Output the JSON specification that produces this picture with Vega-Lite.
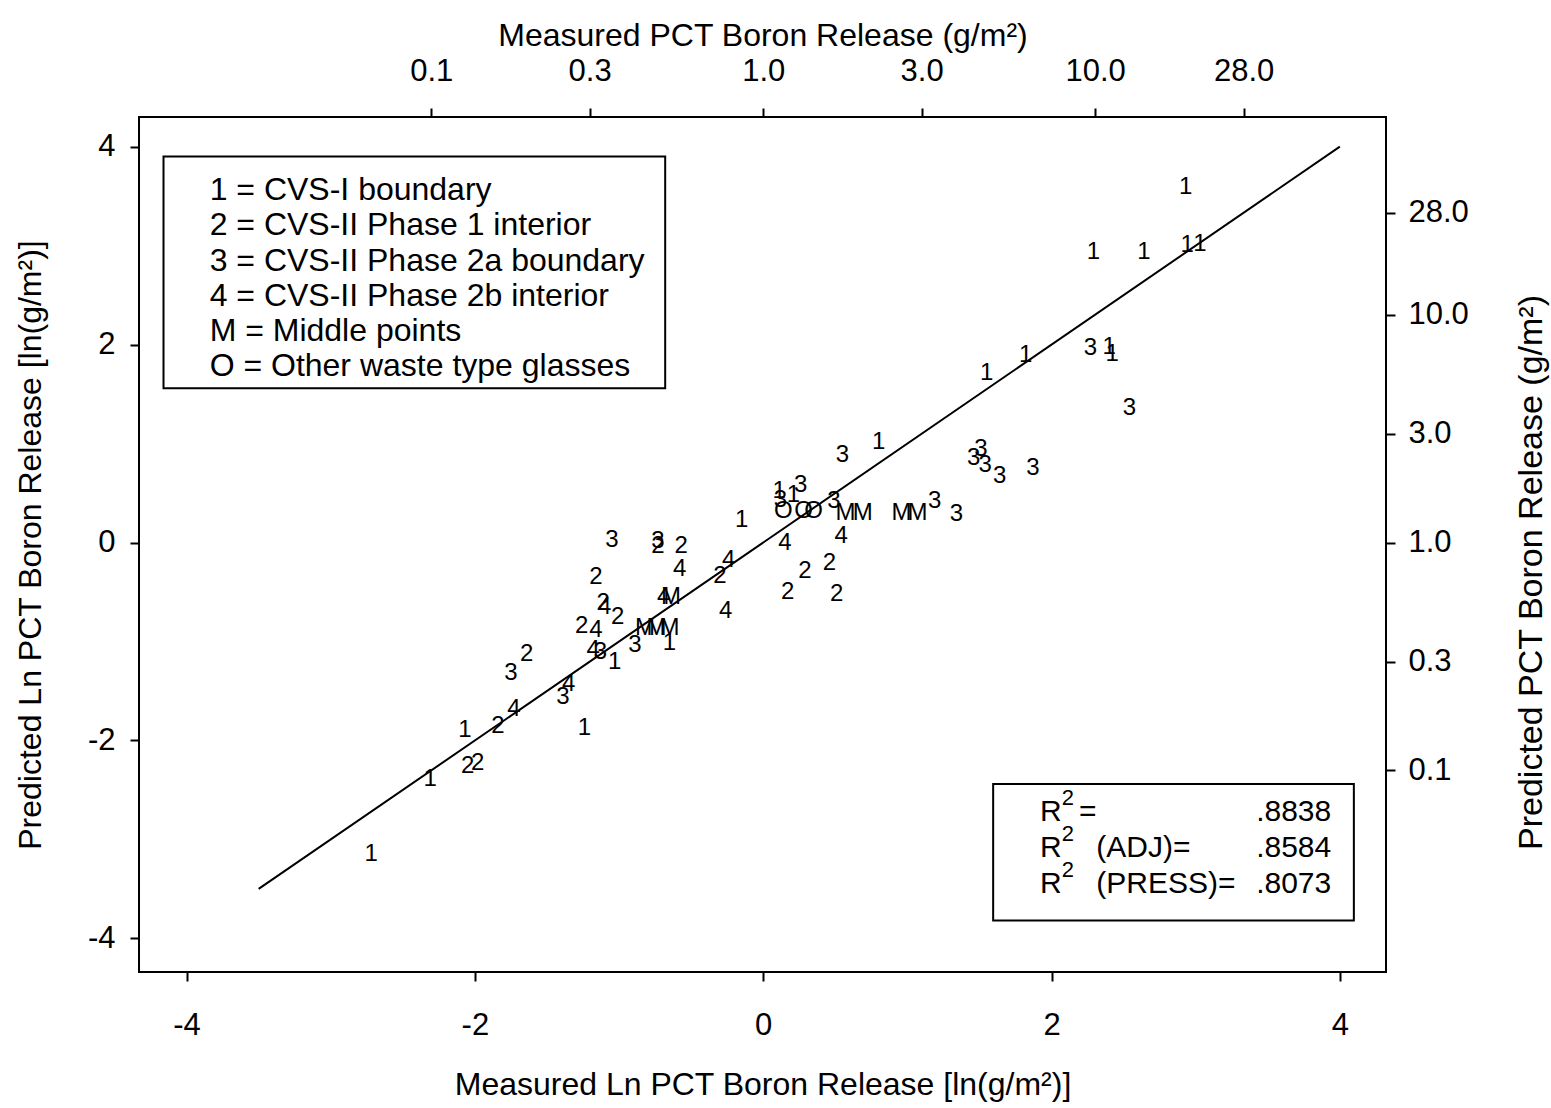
{
  "$schema": "https://vega.github.io/schema/vega-lite/v6.json",
  "width": 1247,
  "height": 855,
  "autosize": {"type": "none"},
  "padding": {"left": 139, "top": 117, "right": 165, "bottom": 136},
  "background": "white",
  "config": {
    "font": "Liberation Sans",
    "view": {"stroke": "black", "strokeWidth": 2},
    "axis": {
      "domain": false, "grid": false,
      "tickColor": "black", "tickWidth": 2, "tickSize": 9,
      "labelFont": "Liberation Sans", "labelFontSize": 31, "labelColor": "black",
      "titleFont": "Liberation Sans", "titleFontSize": 32, "titleFontWeight": "normal", "titleColor": "black"
    }
  },
  "resolve": {"axis": {"x": "independent", "y": "independent"}},
  "layer": [
    {
      "data": {"values": [
        {"group": "1", "measured": -2.72, "predicted": -3.15},
        {"group": "1", "measured": -2.31, "predicted": -2.39},
        {"group": "2", "measured": -2.05, "predicted": -2.26},
        {"group": "2", "measured": -1.98, "predicted": -2.23},
        {"group": "1", "measured": -2.07, "predicted": -1.89},
        {"group": "2", "measured": -1.84, "predicted": -1.85},
        {"group": "4", "measured": -1.73, "predicted": -1.68},
        {"group": "3", "measured": -1.75, "predicted": -1.32},
        {"group": "2", "measured": -1.64, "predicted": -1.13},
        {"group": "3", "measured": -1.39, "predicted": -1.56},
        {"group": "4", "measured": -1.35, "predicted": -1.43},
        {"group": "1", "measured": -1.24, "predicted": -1.87},
        {"group": "4", "measured": -1.18, "predicted": -1.09},
        {"group": "3", "measured": -1.13, "predicted": -1.11},
        {"group": "1", "measured": -1.03, "predicted": -1.21},
        {"group": "3", "measured": -0.89, "predicted": -1.04},
        {"group": "2", "measured": -1.26, "predicted": -0.84},
        {"group": "4", "measured": -1.16, "predicted": -0.88},
        {"group": "2", "measured": -1.11, "predicted": -0.61},
        {"group": "4", "measured": -1.10, "predicted": -0.65},
        {"group": "2", "measured": -1.01, "predicted": -0.75},
        {"group": "2", "measured": -1.16, "predicted": -0.35},
        {"group": "3", "measured": -1.05, "predicted": 0.03},
        {"group": "3", "measured": -0.73, "predicted": 0.02},
        {"group": "2", "measured": -0.73, "predicted": -0.04},
        {"group": "2", "measured": -0.57, "predicted": -0.04},
        {"group": "4", "measured": -0.58, "predicted": -0.27},
        {"group": "4", "measured": -0.69, "predicted": -0.55},
        {"group": "M", "measured": -0.64, "predicted": -0.55},
        {"group": "M", "measured": -0.82, "predicted": -0.86},
        {"group": "M", "measured": -0.74, "predicted": -0.86},
        {"group": "M", "measured": -0.65, "predicted": -0.86},
        {"group": "1", "measured": -0.65, "predicted": -1.02},
        {"group": "2", "measured": -0.30, "predicted": -0.34},
        {"group": "4", "measured": -0.24, "predicted": -0.18},
        {"group": "4", "measured": -0.26, "predicted": -0.69},
        {"group": "1", "measured": -0.15, "predicted": 0.23},
        {"group": "4", "measured": 0.15, "predicted": 0.00},
        {"group": "2", "measured": 0.29, "predicted": -0.29},
        {"group": "2", "measured": 0.46, "predicted": -0.21},
        {"group": "2", "measured": 0.17, "predicted": -0.50},
        {"group": "2", "measured": 0.51, "predicted": -0.52},
        {"group": "4", "measured": 0.54, "predicted": 0.07},
        {"group": "1", "measured": 0.11, "predicted": 0.52},
        {"group": "3", "measured": 0.12, "predicted": 0.43},
        {"group": "1", "measured": 0.21, "predicted": 0.48},
        {"group": "3", "measured": 0.26, "predicted": 0.58},
        {"group": "O", "measured": 0.14, "predicted": 0.32},
        {"group": "O", "measured": 0.28, "predicted": 0.32},
        {"group": "O", "measured": 0.35, "predicted": 0.32},
        {"group": "3", "measured": 0.49, "predicted": 0.42},
        {"group": "M", "measured": 0.57, "predicted": 0.30},
        {"group": "M", "measured": 0.69, "predicted": 0.30},
        {"group": "3", "measured": 0.55, "predicted": 0.88},
        {"group": "1", "measured": 0.80, "predicted": 1.02},
        {"group": "M", "measured": 0.96, "predicted": 0.30},
        {"group": "M", "measured": 1.07, "predicted": 0.30},
        {"group": "3", "measured": 1.19, "predicted": 0.42},
        {"group": "3", "measured": 1.34, "predicted": 0.29},
        {"group": "3", "measured": 1.46, "predicted": 0.85},
        {"group": "3", "measured": 1.51, "predicted": 0.95},
        {"group": "3", "measured": 1.54, "predicted": 0.78},
        {"group": "3", "measured": 1.64, "predicted": 0.67},
        {"group": "3", "measured": 1.87, "predicted": 0.75},
        {"group": "1", "measured": 1.55, "predicted": 1.71},
        {"group": "1", "measured": 1.82, "predicted": 1.90},
        {"group": "3", "measured": 2.27, "predicted": 1.97},
        {"group": "1", "measured": 2.40, "predicted": 1.98},
        {"group": "1", "measured": 2.42, "predicted": 1.91},
        {"group": "3", "measured": 2.54, "predicted": 1.36},
        {"group": "1", "measured": 2.29, "predicted": 2.94},
        {"group": "1", "measured": 2.64, "predicted": 2.94},
        {"group": "1", "measured": 2.94, "predicted": 3.01},
        {"group": "1", "measured": 3.03, "predicted": 3.02},
        {"group": "1", "measured": 2.93, "predicted": 3.59}
      ]},
      "mark": {"type": "text", "fontSize": 24, "color": "black", "align": "center", "baseline": "middle"},
      "encoding": {
        "x": {
          "field": "measured", "type": "quantitative",
          "scale": {"domain": [-4.33, 4.32], "nice": false, "zero": false},
          "axis": {
            "orient": "bottom", "values": [-4, -2, 0, 2, 4],
            "labelExpr": "'' + datum.value", "labelPadding": 29,
            "title": "Measured Ln PCT Boron Release [ln(g/m²)]", "titlePadding": 29
          }
        },
        "y": {
          "field": "predicted", "type": "quantitative",
          "scale": {"domain": [-4.34, 4.30], "nice": false, "zero": false},
          "axis": {
            "orient": "left", "values": [-4, -2, 0, 2, 4],
            "labelExpr": "'' + datum.value", "labelPadding": 15,
            "title": "Predicted Ln PCT Boron Release [ln(g/m²)]", "titlePadding": 40
          }
        },
        "text": {"field": "group"}
      }
    },
    {
      "data": {"values": [
        {"measured": -3.5, "predicted": -3.5},
        {"measured": 4, "predicted": 4}
      ]},
      "mark": {"type": "line", "color": "black", "strokeWidth": 2},
      "encoding": {
        "x": {
          "field": "measured", "type": "quantitative",
          "scale": {"domain": [-4.33, 4.32], "nice": false, "zero": false},
          "axis": {
            "orient": "top",
            "values": [-2.302585, -1.203973, 0, 1.098612, 2.302585, 3.332205],
            "labelExpr": "format(exp(datum.value), '.1f')", "labelPadding": 21,
            "title": "Measured PCT Boron Release (g/m²)", "titlePadding": 3
          }
        },
        "y": {
          "field": "predicted", "type": "quantitative",
          "scale": {"domain": [-4.34, 4.30], "nice": false, "zero": false},
          "axis": {
            "orient": "right",
            "values": [-2.302585, -1.203973, 0, 1.098612, 2.302585, 3.332205],
            "labelExpr": "format(exp(datum.value), '.1f')", "labelPadding": 13,
            "title": "Predicted PCT Boron Release (g/m²)", "titleAngle": -90, "titlePadding": 80,
            "titleFontSize": 34, "titleY": 455
          }
        }
      }
    },
    {
      "data": {"values": [{}]},
      "mark": {"type": "rect", "fillOpacity": 0, "stroke": "black", "strokeWidth": 2},
      "encoding": {
        "x": {"datum": -4.16, "type": "quantitative", "axis": null},
        "x2": {"datum": -0.68},
        "y": {"datum": 3.90, "type": "quantitative", "axis": null},
        "y2": {"datum": 1.56}
      }
    },
    {
      "data": {"values": [{}]},
      "mark": {
        "type": "text", "fontSize": 32, "align": "left", "baseline": "middle", "lineHeight": 35.2, "color": "black",
        "text": ["1 = CVS-I boundary", "2 = CVS-II Phase 1 interior", "3 = CVS-II Phase 2a boundary", "4 = CVS-II Phase 2b interior", "M = Middle points", "O = Other waste type glasses"]
      },
      "encoding": {
        "x": {"datum": -3.84, "type": "quantitative", "axis": null},
        "y": {"datum": 3.56, "type": "quantitative", "axis": null}
      }
    },
    {
      "data": {"values": [{}]},
      "mark": {"type": "rect", "fillOpacity": 0, "stroke": "black", "strokeWidth": 2},
      "encoding": {
        "x": {"datum": 1.595, "type": "quantitative", "axis": null},
        "x2": {"datum": 4.097},
        "y": {"datum": -2.44, "type": "quantitative", "axis": null},
        "y2": {"datum": -3.82}
      }
    },
    {
      "data": {"values": [{}]},
      "mark": {
        "type": "text", "fontSize": 30, "align": "left", "baseline": "middle", "lineHeight": 36, "color": "black",
        "text": ["R", "R", "R"]
      },
      "encoding": {
        "x": {"datum": 1.92, "type": "quantitative", "axis": null},
        "y": {"datum": -2.725, "type": "quantitative", "axis": null}
      }
    },
    {
      "data": {"values": [{}]},
      "mark": {
        "type": "text", "fontSize": 22, "align": "left", "baseline": "middle", "lineHeight": 36, "color": "black",
        "text": ["2", "2", "2"]
      },
      "encoding": {
        "x": {"datum": 2.07, "type": "quantitative", "axis": null},
        "y": {"datum": -2.58, "type": "quantitative", "axis": null}
      }
    },
    {
      "data": {"values": [{}]},
      "mark": {
        "type": "text", "fontSize": 30, "align": "left", "baseline": "middle", "color": "black",
        "text": "="
      },
      "encoding": {
        "x": {"datum": 2.19, "type": "quantitative", "axis": null},
        "y": {"datum": -2.725, "type": "quantitative", "axis": null}
      }
    },
    {
      "data": {"values": [{}]},
      "mark": {
        "type": "text", "fontSize": 30, "align": "left", "baseline": "middle", "lineHeight": 36, "color": "black",
        "text": ["(ADJ)=", "(PRESS)="]
      },
      "encoding": {
        "x": {"datum": 2.31, "type": "quantitative", "axis": null},
        "y": {"datum": -3.09, "type": "quantitative", "axis": null}
      }
    },
    {
      "data": {"values": [{}]},
      "mark": {
        "type": "text", "fontSize": 30, "align": "right", "baseline": "middle", "lineHeight": 36, "color": "black",
        "text": [".8838", ".8584", ".8073"]
      },
      "encoding": {
        "x": {"datum": 3.94, "type": "quantitative", "axis": null},
        "y": {"datum": -2.725, "type": "quantitative", "axis": null}
      }
    }
  ]
}
